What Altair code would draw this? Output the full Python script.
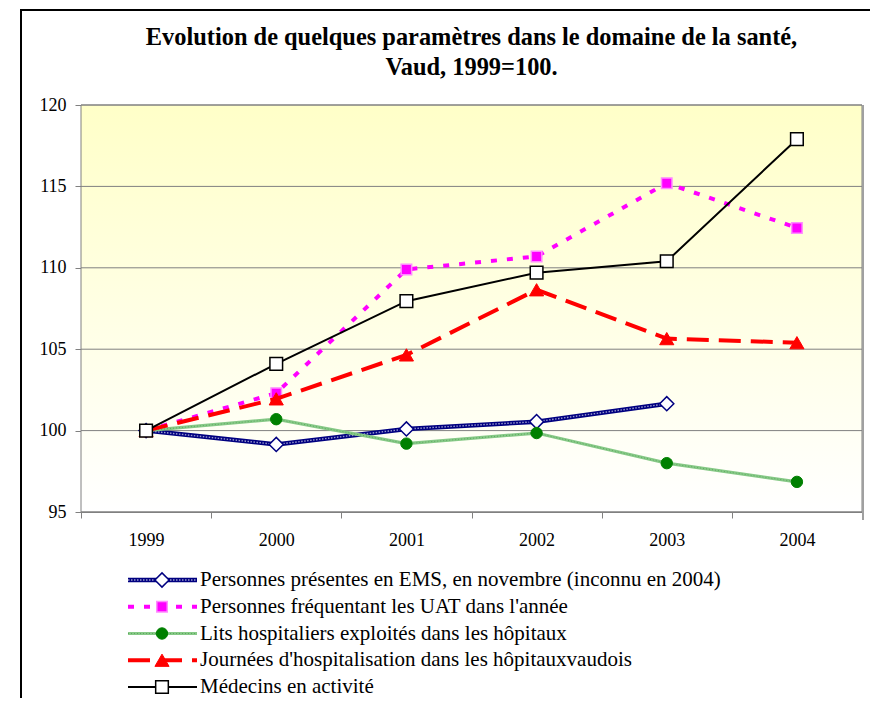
import altair as alt
import pandas as pd

# ---------------- data ----------------
years = ["1999", "2000", "2001", "2002", "2003", "2004"]
series_names = [
    "Personnes présentes en EMS, en novembre (inconnu en 2004)",
    "Personnes fréquentant les UAT dans l'année",
    "Lits hospitaliers exploités dans les hôpitaux",
    "Journées d'hospitalisation dans les hôpitauxvaudois",
    "Médecins en activité",
]
ems = [100.0, 99.15, 100.1, 100.55, 101.65, None]
uat = [100.0, 102.3, 109.9, 110.7, 115.2, 112.45]
lits = [100.0, 100.7, 99.2, 99.85, 98.0, 96.85]
journees = [100.0, 101.95, 104.65, 108.65, 105.65, 105.4]
medecins = [100.0, 104.1, 107.95, 109.7, 110.4, 117.9]
y_ticks = [95, 100, 105, 110, 115, 120]
title_lines = [
    "Evolution de quelques paramètres dans le domaine de la santé,",
    "Vaud, 1999=100.",
]

series_values = [ems, uat, lits, journees, medecins]
rows = []
for name, vals in zip(series_names, series_values):
    for yr, v in zip(years, vals):
        if v is not None:
            rows.append({"series": name, "year": yr, "value": v})
df = pd.DataFrame(rows)
grid_df = pd.DataFrame({"value": y_ticks})
legend_df = pd.DataFrame({"series": series_names, "row": list(range(len(series_names)))})

# ---------------- styles ----------------
W, H = 781, 407
FONT = "Liberation Serif"
GRAY = "#808080"

styles = {
    series_names[0]: dict(color="#000080", width=4.5, dash=None,
                          overlay=dict(color="white", width=1.4, dash=[1.5, 1.5], opacity=0.6),
                          shape="diamond", size=200, fill="white", stroke="#000080", sw=1.5),
    series_names[1]: dict(color="#FF00FF", width=4, dash=[6, 10], overlay=None,
                          shape="square", size=110, fill="#FF00FF", stroke="#FF8CFF", sw=1.5),
    series_names[2]: dict(color="#86C986", width=3.2, dash=None,
                          overlay=dict(color="#2E7D32", width=1, dash=[1, 2], opacity=0.45),
                          shape="circle", size=130, fill="#008000", stroke="#008000", sw=1),
    series_names[3]: dict(color="#FF0000", width=4, dash=[22, 10], overlay=None,
                          shape="triangle-up", size=200, fill="#FF0000", stroke="#FF0000", sw=1),
    series_names[4]: dict(color="#000000", width=2, dash=None, overlay=None,
                          shape="square", size=160, fill="white", stroke="#000000", sw=1.5),
}

x_enc = alt.X(
    "year:O",
    scale=alt.Scale(type="band", domain=years, paddingInner=0, paddingOuter=0),
    bandPosition=0.5,
    axis=alt.Axis(title=None, labelAngle=0, tickBand="extent", domainColor=GRAY,
                  tickColor=GRAY, tickSize=6, labelFont=FONT, labelFontSize=18,
                  labelColor="black", labelPadding=13, grid=False),
)
y_scale = alt.Scale(domain=[95, 120], nice=False, zero=False)
y_axis = alt.Axis(title=None, values=y_ticks, grid=False, domainColor=GRAY, tickColor=GRAY,
                  tickSize=6, labelFont=FONT, labelFontSize=18, labelColor="black",
                  labelPadding=9)
y_enc = alt.Y("value:Q", scale=y_scale, axis=y_axis)

one = alt.Data(values=[{"k": 0}])

# background gradient of the plot area
bg = alt.Chart(one).mark_rect(
    fill=alt.Gradient(
        gradient="linear",
        stops=[alt.GradientStop(color="#FFFFC8", offset=0),
               alt.GradientStop(color="#FFFFFF", offset=1)],
        x1=0, x2=0, y1=0, y2=1,
    )
).encode(x=alt.value(0), x2=alt.value(W), y=alt.value(0), y2=alt.value(H))

grid = alt.Chart(grid_df).mark_rule(color=GRAY, strokeWidth=1).encode(y=y_enc)

layers = [bg, grid]
for name in series_names:
    s = styles[name]
    base = alt.Chart(df).transform_filter(alt.datum.series == name)
    line_kw = dict(color=s["color"], strokeWidth=s["width"])
    if s["dash"]:
        line_kw["strokeDash"] = s["dash"]
    layers.append(base.mark_line(**line_kw).encode(x=x_enc, y=y_enc))
    if s["overlay"]:
        o = s["overlay"]
        layers.append(base.mark_line(color=o["color"], strokeWidth=o["width"],
                                     strokeDash=o["dash"], opacity=o["opacity"])
                      .encode(x=x_enc, y=y_enc))
    layers.append(base.mark_point(shape=s["shape"], size=s["size"], filled=True,
                                  fill=s["fill"], stroke=s["stroke"], strokeWidth=s["sw"],
                                  opacity=1).encode(x=x_enc, y=y_enc))

outline = alt.Chart(one).mark_rect(filled=False, stroke=GRAY, strokeWidth=1).encode(
    x=alt.value(0), x2=alt.value(W), y=alt.value(0), y2=alt.value(H))
right_edge = alt.Chart(one).mark_rule(color="#A0A0A0", strokeWidth=2).encode(
    x=alt.value(W + 1), y=alt.value(0), y2=alt.value(H + 8))
layers += [outline, right_edge]

t1 = alt.Chart(one).mark_text(font=FONT, fontSize=24.4, fontWeight="bold", align="center",
                              baseline="middle", color="black").encode(
    x=alt.value(W / 2), y=alt.value(-67), text=alt.value(title_lines[0]))
t2 = alt.Chart(one).mark_text(font=FONT, fontSize=24.4, fontWeight="bold", align="center",
                              baseline="middle", color="black").encode(
    x=alt.value(W / 2), y=alt.value(-37), text=alt.value(title_lines[1]))
# outer frame: only top and left edges fall inside the picture
frame_left = alt.Chart(one).mark_rect(color="black").encode(
    x=alt.value(-61), x2=alt.value(-59), y=alt.value(-96), y2=alt.value(H + 186))
cover = alt.Chart(one).mark_rect(color="white").encode(
    x=alt.value(W + 3), x2=alt.value(W + 30), y=alt.value(-94), y2=alt.value(H + 200))
frame_top = alt.Chart(one).mark_rect(color="black").encode(
    x=alt.value(-61), x2=alt.value(W + 30), y=alt.value(-96), y2=alt.value(-94))
layers += [t1, t2, frame_left, cover, frame_top]

main = alt.layer(*layers)

# ---------------- legend ----------------
ly = alt.Y("row:Q", scale=alt.Scale(domain=[0, 4], range=[475, 582], nice=False, zero=False),
           axis=None)
leg_layers = []
for name in series_names:
    s = styles[name]
    base = alt.Chart(legend_df).transform_filter(alt.datum.series == name)
    kw = dict(color=s["color"], strokeWidth=s["width"])
    if s["dash"]:
        kw["strokeDash"] = s["dash"]
    leg_layers.append(base.mark_rule(**kw).encode(x=alt.value(47), x2=alt.value(116), y=ly))
    if s["overlay"]:
        o = s["overlay"]
        leg_layers.append(base.mark_rule(color=o["color"], strokeWidth=o["width"],
                                         strokeDash=o["dash"], opacity=o["opacity"])
                          .encode(x=alt.value(47), x2=alt.value(116), y=ly))
    leg_layers.append(base.mark_point(shape=s["shape"], size=s["size"], filled=True,
                                      fill=s["fill"], stroke=s["stroke"], strokeWidth=s["sw"],
                                      opacity=1).encode(x=alt.value(81), y=ly))
leg_layers.append(alt.Chart(legend_df).mark_text(font=FONT, fontSize=21, align="left",
                                                 baseline="middle", color="black")
                  .encode(x=alt.value(119), y=ly, text="series:N"))
legend = alt.layer(*leg_layers)

chart = alt.layer(main, legend).resolve_scale(y="independent").properties(
    width=W, height=H,
    autosize=alt.AutoSizeParams(type="none"),
    padding={"left": 73, "top": 97, "right": 8, "bottom": 187},
    background="white",
).configure_view(stroke=None)

chart.save("out.html", embed_options={"renderer": "svg", "actions": False})
